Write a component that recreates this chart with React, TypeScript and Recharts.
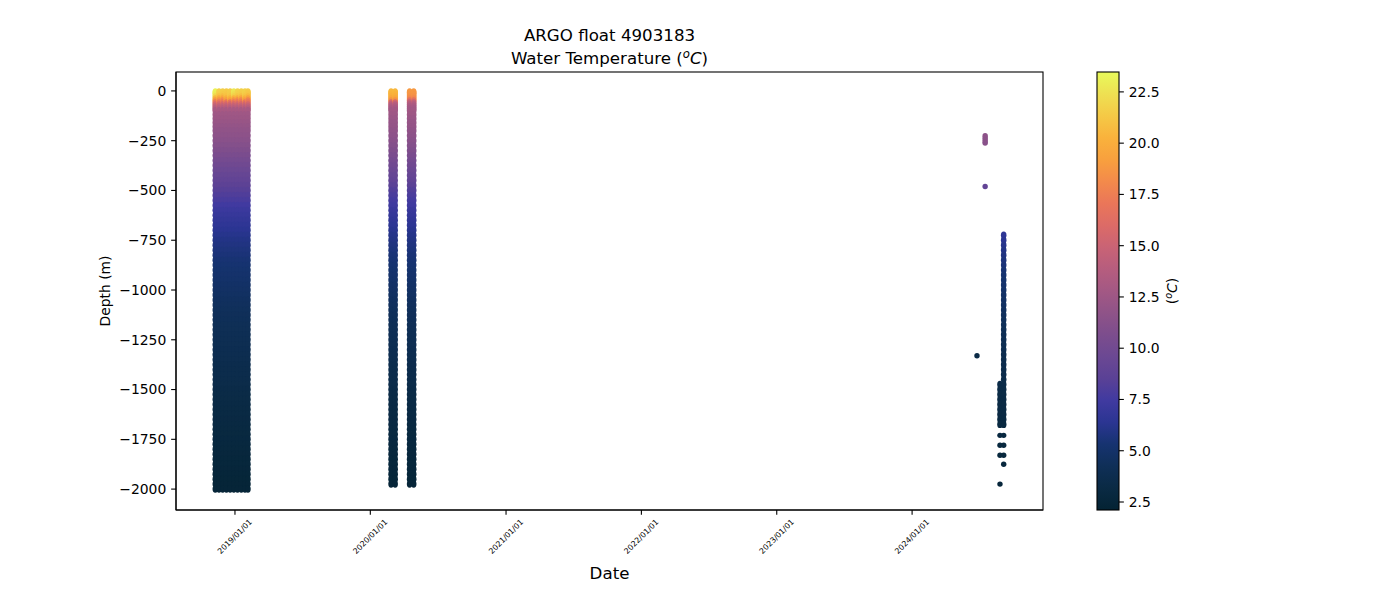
import React from 'react';
import { ScatterChart, Scatter, XAxis, YAxis } from 'recharts';

// ---------------- data ----------------
// sampling depths (m) of the full profiles
const LEVELS = [
  -5, -10, -20, -30, -40, -50, -60, -70, -80, -90,
  -100, -120, -140, -160, -180, -200, -225, -250, -275, -300,
  -325, -350, -375, -400, -425, -450, -475, -500, -525, -550,
  -575, -600, -625, -650, -675, -700, -725, -750, -775, -800,
  -825, -850, -875, -900, -925, -950, -975, -1000, -1025, -1050,
  -1075, -1100, -1125, -1150, -1175, -1200, -1225, -1250, -1275, -1300,
  -1325, -1350, -1375, -1400, -1425, -1450, -1475, -1500, -1525, -1550,
  -1575, -1600, -1625, -1650, -1675, -1700, -1725, -1750, -1775, -1800,
  -1825, -1850, -1875, -1900, -1925, -1950, -1975, -2000,
];

// 2018/19 profiles
const C1_DATES = [
  '2018-11-09', '2018-11-19', '2018-11-29', '2018-12-09', '2018-12-19',
  '2018-12-29', '2019-01-08', '2019-01-18', '2019-01-28', '2019-02-05',
];
// upper 6 levels (-5 … -50 m) of each 2018/19 profile
const C1_TOPS = [
  [23.2, 23.1, 22.8, 22.0, 20.5, 18.8],
  [21.8, 21.7, 21.5, 20.9, 19.8, 18.5],
  [21.6, 21.5, 21.3, 20.7, 19.5, 18.0],
  [21.5, 21.4, 21.2, 20.9, 20.0, 19.0],
  [21.6, 21.5, 21.4, 21.1, 20.3, 19.2],
  [22.8, 22.6, 22.2, 21.6, 20.2, 18.5],
  [21.9, 21.8, 21.6, 21.1, 19.8, 18.2],
  [21.7, 21.6, 21.4, 20.8, 19.5, 18.0],
  [21.8, 21.7, 21.5, 21.1, 20.2, 19.0],
  [21.5, 21.4, 21.2, 20.6, 19.3, 17.8],
];
// levels -60 m and deeper, shared by the 2018/19 profiles
const C1_DEEP = [
  17.0, 15.5, 14.5, 13.8,
  13.0, 12.6, 12.4, 12.2, 12.0, 11.8, 11.6, 11.4, 11.1, 10.8,
  10.5, 10.2, 9.9, 9.6, 9.3, 9.0, 8.7, 8.4, 8.1, 7.8,
  7.5, 7.2, 7.0, 6.8, 6.6, 6.4, 6.2, 6.0, 5.85, 5.7,
  5.55, 5.4, 5.3, 5.2, 5.1, 5.0, 4.9, 4.8, 4.7, 4.6,
  4.5, 4.4, 4.35, 4.3, 4.2, 4.15, 4.1, 4.0, 3.95, 3.9,
  3.85, 3.8, 3.7, 3.65, 3.6, 3.55, 3.5, 3.4, 3.35, 3.3,
  3.25, 3.2, 3.15, 3.1, 3.05, 3.0, 2.95, 2.9, 2.85, 2.8,
  2.75, 2.7, 2.65, 2.6, 2.55, 2.5, 2.45, 2.4,
];

// 2020 profiles (two groups)
const C2A_DATES = ['2020-02-26', '2020-03-08'];
const C2B_DATES = ['2020-04-16', '2020-04-27'];
const C2_BOTTOM = -1975;
const C2A_TOP = [20.6, 20.5, 20.3, 20.0, 19.6, 18.5, 15.5, 14.0, 13.4, 13.0];
const C2B_TOP = [18.9, 18.8, 18.7, 18.5, 18.0, 16.5, 14.5, 13.6, 13.1, 12.8];
const C2_DEEP = [
  12.7, 12.5, 12.3, 12.1, 12.0, 11.8, 11.6, 11.4, 11.1, 10.8,
  10.5, 10.2, 9.9, 9.6, 9.3, 9.0, 8.6, 8.2, 7.9, 7.6,
  7.4, 7.1, 6.9, 6.7, 6.5, 6.3, 6.1, 5.95, 5.8, 5.65,
  5.5, 5.4, 5.3, 5.2, 5.1, 5.0, 4.9, 4.8, 4.7, 4.6,
  4.5, 4.4, 4.35, 4.3, 4.2, 4.15, 4.1, 4.0, 3.95, 3.9,
  3.85, 3.8, 3.7, 3.65, 3.6, 3.55, 3.5, 3.4, 3.35, 3.3,
  3.25, 3.2, 3.15, 3.1, 3.05, 3.0, 2.95, 2.9, 2.85, 2.8,
  2.75, 2.7, 2.65, 2.6, 2.55, 2.5, 2.45, 2.4,
];

// 2024 partial profiles
const P24_COL_DATE = '2024-09-04';
const P24_COL_TEMPS = [
  6.6, 6.4, 6.2, 6.0, 5.85, 5.7, 5.55, 5.4, 5.3, 5.2,
  5.1, 5.0, 4.9, 4.8, 4.7, 4.6, 4.5, 4.4, 4.3, 4.2,
  4.1, 4.0, 3.95, 3.9, 3.8, 3.75, 3.7, 3.6, 3.55, 3.5,
  3.4, 3.35, 3.3, 3.25, 3.2, 3.15, 3.1, 3.05, 3.0,
];
const P24_BLOCK_DATE = '2024-08-25';
const P24_BLOCK_TEMPS = [3.4, 3.35, 3.3, 3.25, 3.2, 3.15, 3.1, 3.05, 3.0];
// isolated samples
const P24_DOT_DATES = [
  '2024-07-16', '2024-07-16', '2024-07-16', '2024-07-16', '2024-07-16', '2024-07-16',
  '2024-06-24',
  '2024-08-25', '2024-09-04', '2024-08-25', '2024-09-04', '2024-08-25', '2024-09-04',
  '2024-09-04', '2024-08-25',
];
const P24_DOT_DEPTHS = [
  -225, -235, -245, -255, -262, -480,
  -1330,
  -1730, -1730, -1780, -1780, -1830, -1830,
  -1875, -1975,
];
const P24_DOT_TEMPS = [
  11.6, 11.6, 11.5, 11.5, 11.4, 9.0,
  3.3,
  2.9, 2.9, 2.85, 2.85, 2.8, 2.8,
  2.75, 2.6,
];

const X_TICK_DATES = ['2019-01-01', '2020-01-01', '2021-01-01', '2022-01-01', '2023-01-01', '2024-01-01'];
const X_DOMAIN_DATES = ['2018-07-26', '2024-12-19'];
const Y_DOMAIN = [-2105, 95];
const Y_TICKS = [-2000, -1750, -1500, -1250, -1000, -750, -500, -250, 0];
const CBAR_DOMAIN = [2.11, 23.47];
const CBAR_TICKS = [2.5, 5.0, 7.5, 10.0, 12.5, 15.0, 17.5, 20.0, 22.5];

// thermal colormap anchors
const CMAP: [number, string][] = [
  [0.0, '#042333'], [0.05, '#0a2a44'], [0.1, '#0f2f57'], [0.15, '#163370'],
  [0.2, '#2b3592'], [0.25, '#403aa0'], [0.3, '#5a4196'], [0.35, '#6b4893'],
  [0.4, '#7c4d8d'], [0.45, '#8f5388'], [0.5, '#a35884'], [0.55, '#b65d7e'],
  [0.6, '#c96375'], [0.65, '#dc6b67'], [0.7, '#ea7659'], [0.75, '#f38a4b'],
  [0.8, '#f8a03e'], [0.85, '#f9b23c'], [0.9, '#f5c946'], [0.95, '#eee052'],
  [1.0, '#e8fa5b'],
];

// ---------------- helpers ----------------
const ts = (d: string) => Date.parse(d + 'T00:00:00Z');
const hex = (h: string) => [1, 3, 5].map((i) => parseInt(h.slice(i, i + 2), 16));
function colorOf(t: number): string {
  let f = (t - CBAR_DOMAIN[0]) / (CBAR_DOMAIN[1] - CBAR_DOMAIN[0]);
  f = Math.max(0, Math.min(1, f));
  for (let i = 1; i < CMAP.length; i++) {
    if (f <= CMAP[i][0]) {
      const [f0, c0] = CMAP[i - 1];
      const [f1, c1] = CMAP[i];
      const u = (f - f0) / (f1 - f0);
      const a = hex(c0), b = hex(c1);
      const c = a.map((v, k) => Math.round(v + (b[k] - v) * u));
      return `rgb(${c[0]},${c[1]},${c[2]})`;
    }
  }
  return CMAP[CMAP.length - 1][1];
}

type Pt = { x: number; y: number; t: number };
// samples of full / partial profiles
const profilePts: Pt[] = [];
C1_DATES.forEach((d, j) => {
  const temps = [...C1_TOPS[j], ...C1_DEEP];
  LEVELS.forEach((z, i) => profilePts.push({ x: ts(d), y: z, t: temps[i] }));
});
const C2A = [...C2A_TOP, ...C2_DEEP];
const C2B = [...C2B_TOP, ...C2_DEEP];
C2A_DATES.forEach((d) => LEVELS.forEach((z, i) => { if (z >= C2_BOTTOM) profilePts.push({ x: ts(d), y: z, t: C2A[i] }); }));
C2B_DATES.forEach((d) => LEVELS.forEach((z, i) => { if (z >= C2_BOTTOM) profilePts.push({ x: ts(d), y: z, t: C2B[i] }); }));
LEVELS.slice(66, 75).forEach((z, i) => profilePts.push({ x: ts(P24_BLOCK_DATE), y: z, t: P24_BLOCK_TEMPS[i] }));
LEVELS.slice(36, 75).forEach((z, i) => profilePts.push({ x: ts(P24_COL_DATE), y: z, t: P24_COL_TEMPS[i] }));
// isolated samples
const dotPts: Pt[] = P24_DOT_DATES.map((d, i) => ({ x: ts(d), y: P24_DOT_DEPTHS[i], t: P24_DOT_TEMPS[i] }));

const xTicks = X_TICK_DATES.map(ts);
const xDomain = X_DOMAIN_DATES.map(ts);
const fmtDate = (v: number) => {
  const d = new Date(v);
  const m = String(d.getUTCMonth() + 1).padStart(2, '0');
  const dd = String(d.getUTCDate()).padStart(2, '0');
  return `${d.getUTCFullYear()}/${m}/${dd}`;
};
const fmtNum = (v: number) => String(v).replace('-', '\u2212');

// ---------------- layout ----------------
const W = 1392;
const H = 592;
const PL = 168, PT = 64, PR = 1035, PB = 502; // plot box in chart coords
const FONT = 'DejaVu Sans';
const TICK_FS = 13.9;
const TL = 4.86;

const XTick = (props: any) => {
  const { x, y, payload } = props;
  const cy = y + 17;
  return (
    <text x={x} y={cy} transform={`rotate(-45, ${x}, ${cy})`} textAnchor="middle"
      dominantBaseline="central" fontSize={7.8} fontFamily={FONT} fill="#000">
      {fmtDate(payload.value)}
    </text>
  );
};

const ProfileDot = (props: any) => {
  const { cx, cy, payload } = props;
  if (cx == null || cy == null) return null;
  return <ellipse cx={cx} cy={cy} rx={2.8} ry={3.7} fill={colorOf(payload.t)} />;
};
const Dot = (props: any) => {
  const { cx, cy, payload } = props;
  if (cx == null || cy == null) return null;
  return <circle cx={cx} cy={cy} r={2.7} fill={colorOf(payload.t)} />;
};

const CB_X0 = 1089, CB_X1 = 1111;
const cbY = (v: number) => PB - ((v - CBAR_DOMAIN[0]) / (CBAR_DOMAIN[1] - CBAR_DOMAIN[0])) * (PB - PT);

export default function App() {
  const midX = (PL + PR) / 2;
  return (
    <div style={{ position: 'relative', width: W, height: H, background: '#fff' }}>
      <ScatterChart width={W} height={H} margin={{ top: PT, right: W - PR, bottom: 30, left: PL - 60 }}>
        <XAxis type="number" dataKey="x" domain={xDomain} allowDataOverflow ticks={xTicks} interval={0}
          height={60} tick={<XTick />} tickSize={TL} tickMargin={TL}
          axisLine={{ stroke: '#000', strokeWidth: 1.1 }} tickLine={{ stroke: '#000', strokeWidth: 1.1 }} />
        <YAxis type="number" dataKey="y" domain={Y_DOMAIN} allowDataOverflow ticks={Y_TICKS} interval={0}
          width={60} tickFormatter={fmtNum} tickSize={TL} tickMargin={TL}
          tick={{ fontSize: TICK_FS, fontFamily: FONT, fill: '#000' }}
          axisLine={{ stroke: '#000', strokeWidth: 1.1 }} tickLine={{ stroke: '#000', strokeWidth: 1.1 }} />
        <Scatter data={profilePts} isAnimationActive={false} shape={<ProfileDot />} />
        <Scatter data={dotPts} isAnimationActive={false} shape={<Dot />} />
      </ScatterChart>
      <svg width={W} height={H} style={{ position: 'absolute', left: 0, top: 0, pointerEvents: 'none' }}
        fontFamily={FONT}>
        <defs>
          <linearGradient id="cbar" x1="0" y1="1" x2="0" y2="0">
            {CMAP.map(([f, c]) => <stop key={f} offset={f} stopColor={c} />)}
          </linearGradient>
        </defs>
        <rect x={PL} y={PT} width={PR - PL} height={PB - PT} fill="none" stroke="#000" strokeWidth={1.1} />
        <text x={midX} y={33} textAnchor="middle" fontSize={16.67} fill="#000">ARGO float 4903183</text>
        <text x={midX} y={56} textAnchor="middle" fontSize={16.67} fill="#000">
          Water Temperature (
          <tspan fontStyle="italic" fontSize={11.7} dy={-6.5}>o</tspan>
          <tspan fontStyle="italic" dy={6.5}>C</tspan>)
        </text>
        <text x={midX} y={571} textAnchor="middle" fontSize={16.67} fill="#000">Date</text>
        <text x={102} y={(PT + PB) / 2} transform={`rotate(-90, 102, ${(PT + PB) / 2})`} textAnchor="middle"
          fontSize={TICK_FS} fill="#000">Depth (m)</text>
        <rect x={CB_X0} y={PT} width={CB_X1 - CB_X0} height={PB - PT} fill="url(#cbar)" stroke="#000" strokeWidth={1.1} />
        {CBAR_TICKS.map((v) => (
          <g key={v}>
            <line x1={CB_X1} x2={CB_X1 + TL} y1={cbY(v)} y2={cbY(v)} stroke="#000" strokeWidth={1.1} />
            <text x={CB_X1 + TL + TL} y={cbY(v)} dy="0.355em" fontSize={TICK_FS} fill="#000">{v.toFixed(1)}</text>
          </g>
        ))}
        <text x={1169} y={(PT + PB) / 2} transform={`rotate(-90, 1169, ${(PT + PB) / 2})`} textAnchor="middle"
          fontSize={TICK_FS} fill="#000">
          (
          <tspan fontStyle="italic" fontSize={9.7} dy={-5.5}>o</tspan>
          <tspan fontStyle="italic" dy={5.5}>C</tspan>)
        </text>
      </svg>
    </div>
  );
}
